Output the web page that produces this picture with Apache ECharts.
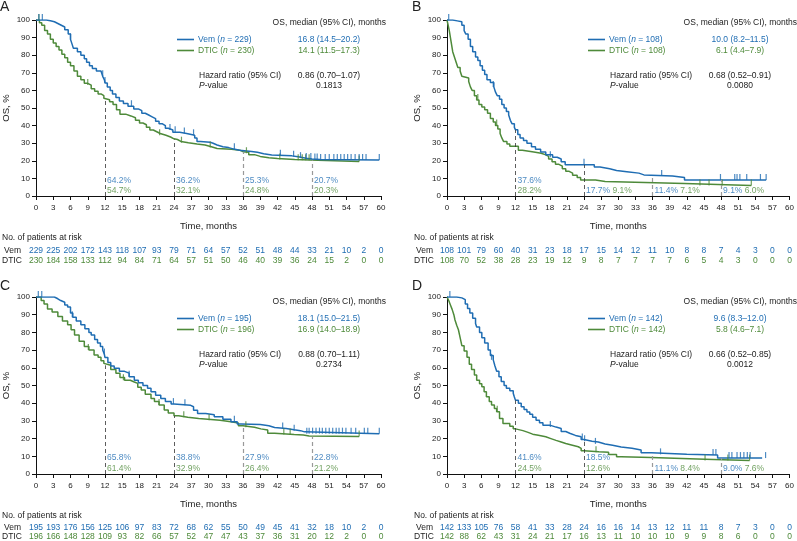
<!DOCTYPE html>
<html><head><meta charset="utf-8">
<script src="https://cdn.jsdelivr.net/npm/echarts@6/dist/echarts.min.js"></script>
<style>html,body{margin:0;padding:0;background:#fff}#c{width:797px;height:541px}</style>
</head><body><div id="c"></div><script>
// ---------- DATA ----------
const xTickLabels = ['0','3','6','9','12','15','18','21','24','37','30','33','36','39','42','45','48','51','54','57','60'];
const landmarkMonths = [12, 24, 36, 48];
const panelLetters = ['A', 'B', 'C', 'D'];

// Panel A
const aVem = [[0,100],[1.8,99.6],[2.5,99],[3.2,98],[3.8,97],[4.4,96],[5,94.5],[5.6,92],[6,89],[6.3,86],[6.5,84],[7.2,82],[7.8,80],[8.4,78],[8.8,76],[9.3,74],[9.8,72.5],[10.5,71],[11.3,70],[11.6,68],[11.9,66],[12,64.2],[12.4,62],[12.9,60],[13.3,58],[13.9,56],[14.5,54],[15.2,52.5],[16,51],[17,49.5],[17.8,48.5],[18.4,47],[19,46],[19.6,45],[20.2,44],[20.8,42.5],[21.4,41],[22,40],[22.5,38.5],[23,37.5],[23.8,36.2],[25,35.5],[26.2,34.5],[27.6,33],[28,31],[28.6,30.5],[30.3,30],[30.8,29],[31.5,28],[32.5,27.5],[33.5,26.5],[34.6,26],[35.4,25.3],[37.5,24.8],[38.5,24],[39.6,23.3],[41,22.8],[44.5,22.3],[45.6,21.5],[47,21],[48,20.7],[49.4,20.4],[59.7,20.4]];
const aDtic = [[0,100],[0.6,98.5],[1,97],[1.5,94],[2,92],[2.5,89],[3,87],[3.5,85],[4,83],[4.5,80.5],[5,78.5],[5.5,76],[6,74],[6.6,71],[7.2,68],[7.8,66],[8.4,64],[9,63],[9.6,61],[10.2,59.5],[10.8,58],[11.3,57],[11.8,55.5],[12,54.7],[12.8,53.5],[13.4,52],[14,49],[14.6,46.5],[15.6,45.5],[16.5,44.5],[17.3,43],[18,41.5],[18.6,40.5],[19.2,39],[19.8,37.5],[20.4,36.5],[21,35.5],[21.6,34.5],[22.6,33.5],[23.4,32.5],[24,32.1],[24.6,31],[25.2,30.3],[26.5,29.5],[28,29],[29.4,28],[30.5,27],[31.5,26.5],[34,26],[35.5,25.2],[36,24.8],[37,23.5],[38,22.5],[39,21.7],[40.5,21.3],[42,20.8],[45,20.3],[49,19.6],[56.2,19.6]];
const aVemCens = [[0.5,100],[1.1,100],[6,89],[11.6,68],[12,64.2],[16.6,51],[23.3,37.5],[24.2,36.2],[25.8,35.5],[27.4,34.5],[34.5,26.5],[42.5,22.8],[44.8,22.3],[46,21.5],[47,21],[47.8,21],[48.5,20.7],[48.9,20.7],[49.5,20.4],[50.3,20.4],[51,20.4],[51.8,20.4],[52.4,20.4],[53,20.4],[53.6,20.4],[54.2,20.4],[54.8,20.4],[55.5,20.4],[56.2,20.4],[56.8,20.4],[57.4,20.4],[59.7,20.4]];
const aDticCens = [[0.5,100],[9,63],[21.5,34.5],[25.3,30.3],[30.3,27.5],[36.6,24.3],[42.4,20.8],[45.6,20.3],[46.3,20.3],[46.9,20.3],[47.5,20.3],[56.2,19.6]];
const aVemLandmark = [64.2, 36.2, 25.3, 20.7];
const aDticLandmark = [54.7, 32.1, 24.8, 20.3];
const aVemRisk = [229,225,202,172,143,118,107,93,79,71,64,57,52,51,48,44,33,21,10,2,0];
const aDticRisk = [230,184,158,133,112,94,84,71,64,57,51,50,46,40,39,36,24,15,2,0,0];

// Panel B
const bVem = [[0,100],[1,99.5],[1.8,99],[2.6,97],[3,94],[3.3,92],[3.7,89],[4.1,85],[4.5,82],[5,79],[5.4,77],[5.8,74],[6.2,71.5],[6.6,69],[7,66],[7.6,64.5],[8.2,62],[8.5,59],[8.8,57],[9.2,55],[9.6,52],[10,50],[10.4,48],[10.8,46],[11.1,43],[11.4,41],[11.8,39],[12,37.6],[12.4,35],[12.8,33],[13.4,31.5],[14,30],[14.8,28],[15.5,26.5],[16.4,25],[17.3,23.5],[18.5,22],[19.3,21],[20,19.5],[20.7,17.7],[25.8,16.5],[26.8,15.5],[28.5,14.5],[29.7,13.8],[31.5,13],[33.6,12],[34.5,11.4],[39.5,10.5],[41.6,9.1],[55.9,9.1]];
const bDtic = [[0,100],[0.2,97],[0.4,94],[0.6,90],[0.8,86],[1,82],[1.3,79],[1.6,76],[1.9,73],[2.3,71],[2.6,68],[2.9,67],[3.8,65],[4.1,62],[4.4,60],[4.8,57],[5.2,54.5],[5.6,52],[6.1,50.5],[6.6,49],[7.1,47],[7.6,44],[8.1,42],[8.5,40],[8.9,38],[9.3,35.5],[9.6,33],[9.9,31],[10.5,29.5],[11,28.2],[12.5,26],[13.2,25],[15.2,24.3],[16.5,23.5],[17.2,22.5],[17.8,21],[18.4,19.5],[19,18],[19.6,17],[20.2,15.5],[20.8,14],[21.4,13],[22,11.8],[22.8,10.5],[23.4,9.1],[26,8.2],[27.7,7.1],[41.6,6.0],[53.3,6.0]];
const bVemCens = [[0.3,100],[8.1,62],[18.1,22],[24,17.7],[37.6,11.4],[47.9,9.1],[50.4,9.1],[50.8,9.1],[51.3,9.1],[52.5,9.1],[54.9,9.1],[55.9,9.1]];
const bDticCens = [[5.4,54.5],[8.7,40],[44.3,6],[45.9,6],[48.2,6],[53.3,6]];
const bVemLandmark = [37.6, 17.7, 11.4, 9.1];
const bDticLandmark = [28.2, 9.1, 7.1, 6.0];
const bVemRisk = [108,101,79,60,40,31,23,18,17,15,14,12,11,10,8,8,7,4,3,0,0];
const bDticRisk = [108,70,52,38,28,23,19,12,9,8,7,7,7,7,6,5,4,3,0,0,0];

// Panel C
const cVem = [[0,100],[3.2,99],[3.8,98],[4.3,97],[5,95.5],[5.5,94.3],[6,91],[6.4,88.5],[7,86.5],[7.8,84.3],[8.5,82],[9.2,80],[9.6,78.5],[10.2,76],[10.7,74],[11.2,72],[11.6,70],[11.9,67.5],[12,65.8],[12.5,63],[13,61],[13.6,59.7],[14.5,58],[15.4,57],[16.2,55],[17.1,53],[17.8,51.5],[18.6,50],[19.4,48.4],[20,46.5],[20.8,44.5],[21.7,42.7],[22.5,41],[23.5,39.5],[24,38.8],[26.9,38],[27.4,36],[28.1,34.2],[29.5,33.5],[31,32.3],[32.5,31],[33.9,29.5],[35,28.3],[35.7,27.9],[39,27.3],[40.5,26.3],[41.5,25.7],[43.5,25],[44.9,24.5],[46,23.8],[46.7,22.8],[59.7,22.8]];
const cDtic = [[0,100],[0.9,98],[1.4,96],[2,93.2],[2.8,91.5],[3.8,89],[4.6,86.5],[5.5,84.3],[6.1,81.5],[6.7,78.6],[7.5,75],[8.4,72],[9.2,70],[10.1,67.3],[10.8,66],[11.3,64],[11.8,62.5],[12,61.4],[13,59],[13.9,56.9],[14.6,54.5],[15.4,53],[16.4,52],[17.1,51.2],[17.7,49],[18.3,47.4],[19,45],[20,42.7],[20.6,41],[21.4,39],[22.3,36.1],[23,34.5],[24,32.9],[24.8,32],[26.4,31.4],[28.3,31],[29.9,30.4],[32,29.5],[33.9,28.8],[35.2,27.3],[36,26.4],[38,25.5],[39.1,24.8],[40.3,23],[41.5,22.3],[44.9,22],[46.5,21.5],[47.5,21.2],[56.2,21.2]];
const cVemCens = [[0.4,100],[1,100],[6.3,88.5],[11.9,67.5],[16.2,55],[23.9,39.5],[25.9,38.8],[34.5,29.5],[42.9,25.7],[44.9,24.5],[47.1,22.8],[47.5,22.8],[48.1,22.8],[48.7,22.8],[49.3,22.8],[49.8,22.8],[50.4,22.8],[51,22.8],[51.6,22.8],[52.2,22.8],[52.7,22.8],[53.3,22.8],[53.9,22.8],[54.8,22.8],[55.6,22.8],[57.1,22.8],[57.7,22.8],[59.7,22.8]];
const cDticCens = [[9.1,70],[15.2,53],[21.4,39],[25.7,32],[30.1,30.4],[36.5,26.4],[43.1,22.3],[44.2,22.3],[56.2,21.2]];
const cVemLandmark = [65.8, 38.8, 27.9, 22.8];
const cDticLandmark = [61.4, 32.9, 26.4, 21.2];
const cVemRisk = [195,193,176,156,125,106,97,83,72,68,62,55,50,49,45,41,32,18,10,2,0];
const cDticRisk = [196,166,148,128,109,93,82,66,57,52,47,47,43,37,36,31,20,12,2,0,0];

// Panel D
const dVem = [[0,100],[1.7,99.5],[2.6,98.5],[3.2,96],[3.6,93.5],[4,91],[4.5,88],[5,85],[5.2,83],[5.7,80],[6.1,77],[6.6,74],[7.2,70],[7.6,67],[8.1,64.5],[8.4,61],[8.7,58],[9.1,55],[9.5,52.2],[10,50],[10.4,48.4],[11,47],[11.6,45.6],[11.8,43.5],[12,41.6],[12.5,40],[13,38],[13.5,36.5],[14,35],[14.5,33.8],[15,32],[15.6,30.4],[16.2,29],[16.8,27.6],[18,26.5],[19.1,25.7],[20,24],[20.8,22.9],[21.6,21.8],[22.5,21],[23.5,19.5],[24,18.5],[25.4,18.1],[26.5,17],[27.7,16.3],[29,15.3],[30.5,14.5],[32.4,13.5],[34,12],[35.8,11.1],[42,10.7],[47.4,9.0],[55.2,9.0]];
const dDtic = [[0,100],[0.3,98],[0.6,95.5],[0.9,93],[1.2,90],[1.4,87],[1.7,84],[2,81.5],[2.3,77],[2.6,72.5],[3,69.5],[3.5,66],[3.9,62],[4.3,59],[4.8,56],[5.2,53],[5.7,51],[6.1,49.3],[6.5,46.5],[6.9,43.7],[7.4,41],[7.8,39],[8.3,37],[8.7,35.2],[9.2,31.4],[9.8,28.5],[11,27],[11.6,25.5],[12,24.5],[13.3,23.5],[14.2,22.5],[15,21.9],[16,21],[17.3,20],[18.2,19],[19.1,18.1],[20,17.2],[20.8,16.4],[21.8,15.4],[23,14.5],[23.5,13.2],[24,12.6],[26.6,12.3],[28.3,11],[29.7,9.8],[30.5,9.3],[35.8,8.4],[45.2,7.6],[53,7.6]];
const dVemCens = [[0.5,100],[7.8,64.5],[18.1,26.5],[23.7,19.5],[24.1,18.5],[26,17],[37.4,11.1],[46.6,10.7],[47.1,10.7],[49.4,9],[49.9,9],[50.8,9],[51.4,9],[52,9],[52.6,9],[53.1,9],[55.8,9]];
const dDticCens = [[8.8,35.2],[26.1,12.3],[45.2,7.6],[49.2,7.6],[53,7.6]];
const dVemLandmark = [41.6, 18.5, 11.1, 9.0];
const dDticLandmark = [24.5, 12.6, 8.4, 7.6];
const dVemRisk = [142,133,105,76,58,41,33,28,24,16,16,14,13,12,11,11,8,7,3,0,0];
const dDticRisk = [142,88,62,43,31,24,21,17,16,13,11,10,10,10,9,9,8,6,0,0,0];

// Stats text
const vemN = [229, 108, 195, 142];
const dticN = [230, 108, 196, 142];
const vemMedian = ['16.8 (14.5–20.2)', '10.0 (8.2–11.5)', '18.1 (15.0–21.5)', '9.6 (8.3–12.0)'];
const dticMedian = ['14.1 (11.5–17.3)', '6.1 (4.4–7.9)', '16.9 (14.0–18.9)', '5.8 (4.6–7.1)'];
const hazardRatio = ['0.86 (0.70–1.07)', '0.68 (0.52–0.91)', '0.88 (0.70–1.11)', '0.66 (0.52–0.85)'];
const pValue = ['0.1813', '0.0080', '0.2734', '0.0012'];

// ---------- LAYOUT / STYLE ----------
const BLUE = '#1f6db3', GREEN = '#4e8a3a', TXT = '#222';
const FF = '"Liberation Sans", Arial, Helvetica, sans-serif';
const panels = [
  {vem:aVem, dtic:aDtic, vc:aVemCens, dc:aDticCens, vl:aVemLandmark, dl:aDticLandmark, vr:aVemRisk, dr:aDticRisk,
   grid:{left:35, top:20, width:346, height:176}, dx:0, dy:0, dashTo:'dtic', inline:[false,false,false,false], rm:[50,60]},
  {vem:bVem, dtic:bDtic, vc:bVemCens, dc:bDticCens, vl:bVemLandmark, dl:bDticLandmark, vr:bVemRisk, dr:bDticRisk,
   grid:{left:447, top:20, width:344, height:176}, dx:411, dy:0, dashTo:'vem', inline:[false,true,true,true], rm:[50,60]},
  {vem:cVem, dtic:cDtic, vc:cVemCens, dc:cDticCens, vl:cVemLandmark, dl:cDticLandmark, vr:cVemRisk, dr:cDticRisk,
   grid:{left:35, top:297, width:346, height:177}, dx:0, dy:279, dashTo:'dtic', inline:[false,false,false,false], rm:[49,58]},
  {vem:dVem, dtic:dDtic, vc:dVemCens, dc:dDticCens, vl:dVemLandmark, dl:dDticLandmark, vr:dVemRisk, dr:dDticRisk,
   grid:{left:447, top:297, width:344, height:177}, dx:411, dy:279, dashTo:'vem', inline:[false,false,true,true], rm:[49,58]}
];

const grids = [], xAxes = [], yAxes = [], series = [], graphics = [];
function txt(x, y, text, opts) {
  opts = opts || {};
  const st = {text: text, fill: opts.fill || TXT, fontSize: opts.size || 8.5, fontFamily: FF,
    fontStyle: 'normal',
    align: opts.align || 'left', verticalAlign: 'middle', textAlign: opts.align || 'left', textVerticalAlign: 'middle'};
  if (opts.rich) st.rich = opts.rich;
  graphics.push({type: 'text', x: x, y: y, silent: true, style: st});
}
function ital(color) { return {i: {fontStyle: 'italic', fontSize: 8.5, fontFamily: FF, fill: color}}; }

panels.forEach((p, i) => {
  grids.push(Object.assign({containLabel: false}, p.grid));
  const axisBase = {type: 'value', gridIndex: i, min: 0, max: 60, interval: 3, position: 'bottom', splitLine: {show: false}};
  xAxes.push(Object.assign({}, axisBase, {
    axisLine: {show: true, lineStyle: {color: '#111', width: 1}},
    axisTick: {show: true, length: 4, lineStyle: {color: '#111'}},
    axisLabel: {fontSize: 8, color: TXT, fontFamily: FF, margin: 8, formatter: v => xTickLabels[Math.round(v / 3)]},
    name: 'Time, months', nameLocation: 'middle', nameGap: 25,
    nameTextStyle: {fontSize: 9.5, color: TXT, fontFamily: FF}
  }));
  [[p.vr, BLUE, p.rm[0]], [p.dr, GREEN, p.rm[1]]].forEach(([arr, col, m]) => {
    xAxes.push(Object.assign({}, axisBase, {
      axisLine: {show: false}, axisTick: {show: false},
      axisLabel: {fontSize: 8.5, color: col, fontFamily: FF, margin: m, formatter: v => String(arr[Math.round(v / 3)])}
    }));
  });
  yAxes.push({type: 'value', gridIndex: i, min: 0, max: 100, interval: 10, splitLine: {show: false},
    axisLine: {show: true, lineStyle: {color: '#111', width: 1}},
    axisTick: {show: true, length: 4, lineStyle: {color: '#111'}},
    axisLabel: {fontSize: 8, color: TXT, fontFamily: FF, margin: 6},
    name: 'OS, %', nameLocation: 'middle', nameGap: 25, nameRotate: 90,
    nameTextStyle: {fontSize: 9.5, color: TXT, fontFamily: FF}
  });
  const xi = i * 3;
  const dashTops = p.dashTo === 'vem' ? p.vl : p.dl;
  const lineSeries = (data, col, extra) => Object.assign({
    type: 'line', xAxisIndex: xi, yAxisIndex: i, data: data, step: 'end', showSymbol: false, symbol: 'none',
    lineStyle: {color: col, width: 1.5}, itemStyle: {color: col}, animation: false, silent: true, z: 3
  }, extra || {});
  series.push(lineSeries(p.dtic, GREEN, {
    markLine: {silent: true, symbol: ['none', 'none'], label: {show: false}, animation: false,
      data: landmarkMonths.map((m, j) => [
        {coord: [m, 0], lineStyle: {color: j < 2 ? '#333' : '#999', type: [4, 3], width: j < 2 ? 0.8 : 1.2}},
        {coord: [m, dashTops[j]]}
      ])}
  }));
  series.push(lineSeries(p.vem, BLUE));
  [[p.dc, GREEN], [p.vc, BLUE]].forEach(([arr, col]) => {
    series.push({type: 'scatter', xAxisIndex: xi, yAxisIndex: i, data: arr, symbol: 'rect',
      symbolSize: [1.2, 6], symbolOffset: [0, -3], itemStyle: {color: col}, animation: false, silent: true, z: 4});
  });
  // landmark labels
  const lab = [];
  landmarkMonths.forEach((m, j) => {
    const v = p.vl[j].toFixed(1) + '%', d = p.dl[j].toFixed(1) + '%';
    if (p.inline[j]) {
      lab.push({value: [m, 3], label: {formatter: '{v|' + v + '} {d|' + d + '}'}});
    } else {
      lab.push({value: [m, 9], label: {formatter: '{v|' + v + '}'}});
      lab.push({value: [m, 3], label: {formatter: '{d|' + d + '}'}});
    }
  });
  series.push({type: 'scatter', xAxisIndex: xi, yAxisIndex: i, data: lab, symbolSize: 0, animation: false, silent: true,
    label: {show: true, position: 'right', distance: 2, fontSize: 8.5, fontFamily: FF,
      rich: {v: {color: BLUE, fontSize: 8.5, fontFamily: FF}, d: {color: GREEN, fontSize: 8.5, fontFamily: FF}}}});

  // graphic texts
  const dx = p.dx, dy = p.dy;
  const letterX = i % 2 === 0 ? 0 : 412;
  txt(letterX, 7 + dy, panelLetters[i], {size: 14});
  txt(386 + dx, 23 + dy, 'OS, median (95% CI), months', {align: 'right'});
  graphics.push({type: 'line', silent: true, shape: {x1: 177 + dx, y1: 39.5 + dy, x2: 194 + dx, y2: 39.5 + dy}, style: {stroke: BLUE, lineWidth: 1.6}});
  graphics.push({type: 'line', silent: true, shape: {x1: 177 + dx, y1: 50.5 + dy, x2: 194 + dx, y2: 50.5 + dy}, style: {stroke: GREEN, lineWidth: 1.6}});
  txt(198 + dx, 39.5 + dy, 'Vem ({i|n} = ' + vemN[i] + ')', {fill: BLUE, rich: ital(BLUE)});
  txt(198 + dx, 50.5 + dy, 'DTIC ({i|n} = ' + dticN[i] + ')', {fill: GREEN, rich: ital(GREEN)});
  txt(329 + dx, 39.5 + dy, vemMedian[i], {fill: BLUE, align: 'center'});
  txt(329 + dx, 50.5 + dy, dticMedian[i], {fill: GREEN, align: 'center'});
  txt(199 + dx, 76 + dy, 'Hazard ratio (95% CI)');
  txt(199 + dx, 86 + dy, '{i|P}-value', {rich: ital(TXT)});
  txt(329 + dx, 76 + dy, hazardRatio[i], {align: 'center'});
  txt(329 + dx, 86 + dy, pValue[i], {align: 'center'});
  const axisY = p.grid.top + p.grid.height;
  const rowX = i % 2 === 0 ? 2 : 414;
  txt(rowX, axisY + 42, 'No. of patients at risk');
  txt(rowX + 2, axisY + p.rm[0] + 5, 'Vem');
  txt(rowX, axisY + p.rm[1] + 5, 'DTIC');
});

const chart = echarts.init(document.getElementById('c'), null, {renderer: 'canvas'});
chart.setOption({
  animation: false, backgroundColor: '#fff',
  grid: grids, xAxis: xAxes, yAxis: yAxes, series: series, graphic: graphics
});
</script></body></html>
